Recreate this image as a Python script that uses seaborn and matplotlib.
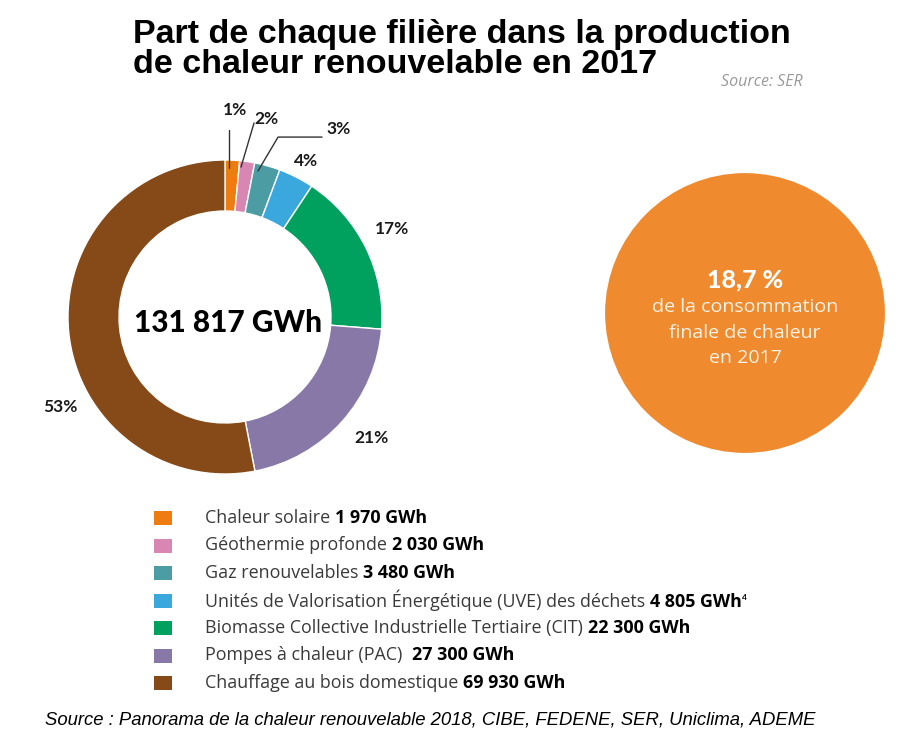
"""Part de chaque filière dans la production de chaleur renouvelable en 2017."""

import matplotlib
matplotlib.use("Agg")
import matplotlib.pyplot as plt
from matplotlib.patches import Circle
import seaborn as sns

# --- données ---------------------------------------------------------------
filieres = [
    "Chaleur solaire",
    "Géothermie profonde",
    "Gaz renouvelables",
    "Unités de Valorisation Énergétique (UVE) des déchets",
    "Biomasse Collective Industrielle Tertiaire (CIT)",
    "Pompes à chaleur (PAC) ",
    "Chauffage au bois domestique",
]
production_gwh = [1970, 2030, 3480, 4805, 22300, 27300, 69930]
couleurs = ["#EE7D11", "#D886B2", "#4B9DA3", "#3BA8DD", "#00A05F", "#8878A8", "#854A18"]
total_label = "131 817 GWh"
part_conso = "18,7 %"
part_conso_txt = ["de la consommation", "finale de chaleur", "en 2017"]

# positions des étiquettes (unités du donut, rayon = 1)
label_pos = [(0.064, 1.318), (0.261, 1.261), (0.726, 1.197), (0.516, 0.994),
             (1.064, 0.561), (0.930, -0.771), (-1.051, -0.573)]
leaders = {
    0: [(0.025, 1.191), (0.025, 0.949)],
    1: [(0.185, 1.236), (0.102, 0.955)],
    2: [(0.618, 1.146), (0.338, 1.146), (0.21, 0.93)],
}

sns.set_theme(style="white")
plt.rcParams["font.family"] = ["Lato", "DejaVu Sans"]
body_font = ["Open Sans", "Lato", "DejaVu Sans"]

W, H = 921, 751
fig = plt.figure(figsize=(W / 100, H / 100), dpi=100)
fig.patch.set_facecolor("white")


def fx(px):
    return px / W


def fy(py):
    return 1 - py / H


# --- donut -----------------------------------------------------------------
cx, cy, R = 225, 317, 157
half = 1.4 * R
ax = fig.add_axes([fx(cx - half), fy(cy + half), 2 * half / W, 2 * half / H])
pal = sns.color_palette(couleurs)
ax.pie(production_gwh, colors=pal, startangle=90, counterclock=False, radius=1.0,
       wedgeprops=dict(width=0.325, edgecolor="white", linewidth=1.0))
ax.set_xlim(-1.4, 1.4)
ax.set_ylim(-1.4, 1.4)
ax.set_aspect("equal")
ax.axis("off")

total = sum(production_gwh)
for i, v in enumerate(production_gwh):
    pct = round(v / total * 100)
    x, y = label_pos[i]
    ax.text(x, y, f"{pct}%", ha="center", va="center", fontsize=12.5,
            fontweight="bold", color="#1a1a1a", clip_on=False)
for pts in leaders.values():
    xs, ys = zip(*pts)
    ax.plot(xs, ys, color="#333333", linewidth=1.0, clip_on=False)

ax.text(0.02, -0.04, total_label, ha="center", va="center", fontsize=21.5,
        fontweight="black", color="black")

# --- cercle orange ---------------------------------------------------------
ccx, ccy, cr = 745, 313, 140
ax2 = fig.add_axes([fx(ccx - cr - 2), fy(ccy + cr + 2), (2 * cr + 4) / W, (2 * cr + 4) / H])
ax2.add_patch(Circle((0, 0), 1.0, color="#EF8A2F", linewidth=0))
ax2.set_xlim(-1.015, 1.015)
ax2.set_ylim(-1.015, 1.015)
ax2.set_aspect("equal")
ax2.axis("off")
fig.text(fx(ccx), fy(280), part_conso, ha="center", va="center", fontsize=18,
         fontweight="black", color="white")
for k, line in enumerate(part_conso_txt):
    fig.text(fx(ccx), fy(307 + 25.5 * k), line, ha="center", va="center",
             fontsize=14, family=body_font, color="#FFF3E6")

# --- titre -----------------------------------------------------------------
title_font = ["Liberation Sans", "DejaVu Sans"]
fig.text(fx(133), fy(43), "Part de chaque filière dans la production", ha="left",
         va="baseline", fontsize=24.5, fontweight="bold", family=title_font, color="black")
fig.text(fx(133), fy(73), "de chaleur renouvelable en 2017", ha="left",
         va="baseline", fontsize=24.5, fontweight="bold", family=title_font, color="black")
fig.text(fx(803), fy(82), "Source: SER", ha="right", va="center", fontsize=11.5,
         style="italic", family=body_font, color="#9a9a9a")

# --- légende ---------------------------------------------------------------
legend_ax = fig.add_axes([0, 0, 1, 1], facecolor="none")
legend_ax.set_xlim(0, W)
legend_ax.set_ylim(H, 0)
legend_ax.axis("off")
row0, step = 518, 27.5
for i, (nom, v) in enumerate(zip(filieres, production_gwh)):
    y = row0 + step * i
    legend_ax.add_patch(plt.Rectangle((154, y - 7), 18, 14, color=pal[i], linewidth=0))
    t = legend_ax.text(205, y, nom + " ", ha="left", va="center", fontsize=12.9,
                       family=body_font, color="#3a3a3a")
    num = f"{v:,}".replace(",", " ") + " GWh"
    b = legend_ax.annotate(num, xy=(1, 0), xycoords=t, ha="left", va="bottom",
                           fontsize=12.9, fontweight="bold", family=body_font,
                           color="black")
    if i == 3:
        legend_ax.annotate("4", xy=(1, 0.55), xycoords=b, ha="left", va="bottom",
                           fontsize=6, fontweight="bold", color="black")

# --- source ----------------------------------------------------------------
fig.text(fx(45), fy(720), "Source : Panorama de la chaleur renouvelable 2018, CIBE, "
         "FEDENE, SER, Uniclima, ADEME", ha="left", va="center", fontsize=13.3,
         style="italic", family=["Liberation Sans", "DejaVu Sans"], color="black")

fig.savefig("out.png", dpi=100, facecolor="white")
